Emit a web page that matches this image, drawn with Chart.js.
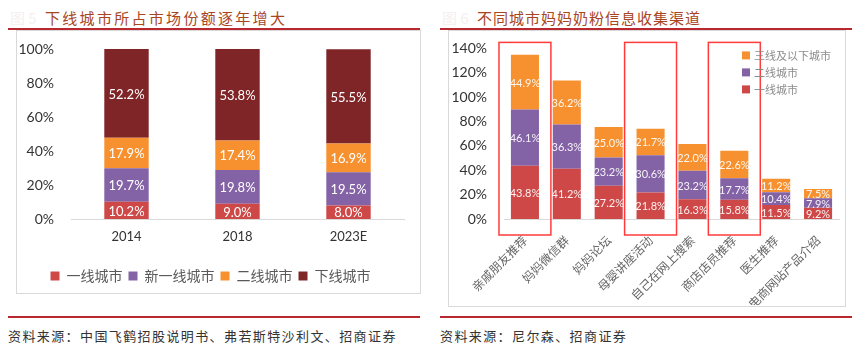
<!DOCTYPE html>
<html>
<head>
<meta charset="utf-8">
<script src="https://cdn.jsdelivr.net/npm/chart.js@4/dist/chart.umd.min.js"></script>
<style>
  body { margin: 0; width: 864px; height: 352px; background: #fff; position: relative; overflow: hidden;
         font-family: "Noto Sans CJK SC", sans-serif; }
  .abs { position: absolute; }
  .fig { color: #f5f0f0; font-size: 15px; top: 7px; }
  .title { color: #a8461f; font-size: 15px; top: 7px; white-space: nowrap; }
  .rule { height: 2px; background: #b8282e; }
  .box { border: 1px solid #d9d9d9; box-sizing: border-box; }
  .src { color: #333; font-size: 13px; top: 326px; letter-spacing: 1.4px; white-space: nowrap; }
</style>
</head>
<body>
<div class="abs fig" style="left:10px">图 5</div>
<div class="abs title" style="left:45px; letter-spacing:2.3px">下线城市所占市场份额逐年增大</div>
<div class="abs rule" style="left:8px; top:28px; width:412px"></div>
<div class="abs box" style="left:16px; top:30px; width:405px; height:264px"></div>
<canvas id="left" class="abs" style="left:17px; top:31px" width="402" height="262"></canvas>
<div class="abs rule" style="left:8px; top:316px; width:412px"></div>
<div class="abs src" style="left:8px">资料来源：中国飞鹤招股说明书、弗若斯特沙利文、招商证券</div>

<div class="abs fig" style="left:442px">图 6</div>
<div class="abs title" style="left:477px; letter-spacing:1px">不同城市妈妈奶粉信息收集渠道</div>
<div class="abs rule" style="left:440px; top:28px; width:412px"></div>
<div class="abs box" style="left:448px; top:30px; width:398px; height:277px"></div>
<canvas id="right" class="abs" style="left:449px; top:31px" width="396" height="274"></canvas>
<div class="abs rule" style="left:440px; top:316px; width:412px"></div>
<div class="abs src" style="left:440px">资料来源：尼尔森、招商证券</div>

<script>
// left chart: market share by city tier
const years = ['2014', '2018', '2023E'];
const tier1Share = [10.2, 9.0, 8.0];
const newTier1Share = [19.7, 19.8, 19.5];
const tier2Share = [17.9, 17.4, 16.9];
const lowerTierShare = [52.2, 53.8, 55.5];

// right chart: info channels of mothers
const channels = ['亲戚朋友推荐', '妈妈微信群', '妈妈论坛', '母婴讲座活动', '自己在网上搜索', '商店店员推荐', '医生推荐', '电商网站产品介绍'];
const firstTier = [43.8, 41.2, 27.2, 21.8, 16.3, 15.8, 11.5, 9.2];
const secondTier = [46.1, 36.3, 23.2, 30.6, 23.2, 17.7, 10.4, 7.9];
const thirdAndBelow = [44.9, 36.2, 25.0, 21.7, 22.0, 22.6, 11.2, 7.5];
const highlighted = [0, 3, 5];

const RED = '#cf4848', PURPLE = '#8462a6', ORANGE = '#f7912f', DARK = '#7f2427';

Chart.defaults.font.family = 'Lato, "Noto Sans CJK SC", sans-serif';
Chart.defaults.animation = false;

// value labels in the middle of each stacked segment
const barLabels = {
    id: 'barLabels',
    afterDatasetsDraw(chart, args, opts) {
        const ctx = chart.ctx;
        ctx.save();
        ctx.font = opts.font;
        ctx.fillStyle = opts.color;
        ctx.textAlign = 'center';
        ctx.textBaseline = 'middle';
        chart.data.datasets.forEach((ds, i) => {
            chart.getDatasetMeta(i).data.forEach((bar, j) => {
                ctx.fillText(ds.data[j].toFixed(1) + '%', bar.x, (bar.y + bar.base) / 2 + 1);
            });
        });
        ctx.restore();
    }
};

// red outline boxes around selected categories
const highlightBoxes = {
    id: 'highlightBoxes',
    afterDraw(chart) {
        const { ctx, scales: { x, y } } = chart;
        const half = (x.getPixelForValue(1) - x.getPixelForValue(0)) * 0.62;
        const top = y.getPixelForValue(y.max) - 6;
        const bottom = y.getPixelForValue(0) + 16;
        ctx.save();
        ctx.strokeStyle = '#ff3b3b';
        ctx.lineWidth = 1.5;
        highlighted.forEach(i => {
            const cx = x.getPixelForValue(i);
            ctx.strokeRect(cx - half, top, half * 2, bottom - top);
        });
        ctx.restore();
    }
};

// legend drawn inside the plot, top right, reversed order
const innerLegend = {
    id: 'innerLegend',
    afterDraw(chart) {
        const { ctx, chartArea } = chart;
        const ds = chart.data.datasets.slice().reverse();
        ctx.save();
        ctx.font = '11px "Noto Sans CJK SC", sans-serif';
        ctx.textBaseline = 'middle';
        ds.forEach((d, i) => {
            const x0 = chartArea.right - 97;
            const yc = chartArea.top + 7 + i * 17;
            ctx.fillStyle = d.backgroundColor;
            ctx.fillRect(x0, yc - 4, 8, 8);
            ctx.fillStyle = '#8c8c8c';
            ctx.fillText(d.label, x0 + 12, yc);
        });
        ctx.restore();
    }
};

new Chart(document.getElementById('left'), {
    type: 'bar',
    data: {
        labels: years,
        datasets: [
            { label: '一线城市', data: tier1Share, backgroundColor: RED },
            { label: '新一线城市', data: newTier1Share, backgroundColor: PURPLE },
            { label: '二线城市', data: tier2Share, backgroundColor: ORANGE },
            { label: '下线城市', data: lowerTierShare, backgroundColor: DARK }
        ]
    },
    options: {
        responsive: false,
        layout: { padding: { top: 18, right: 15, left: 0, bottom: 0 } },
        datasets: { bar: { barPercentage: 0.4, categoryPercentage: 1 } },
        scales: {
            x: {
                stacked: true,
                grid: { display: true, drawOnChartArea: false, drawTicks: false },
                border: { color: '#d9d9d9', width: 1 },
                ticks: { color: '#333', font: { size: 13 }, padding: 10 },
                afterFit: s => { s.height = 44; }
            },
            y: {
                stacked: true, min: 0, max: 100,
                grid: { display: false },
                border: { display: false },
                ticks: { stepSize: 20, color: '#333', font: { size: 14 }, padding: 9, callback: v => v + '%' },
                afterFit: s => { s.width = 54; }
            }
        },
        plugins: {
            legend: {
                position: 'bottom',
                labels: { boxWidth: 9, boxHeight: 9, padding: 6, color: '#595959',
                          font: { size: 14, family: '"Noto Sans CJK SC", sans-serif' } }
            },
            tooltip: { enabled: false },
            barLabels: { font: '13px Lato, sans-serif', color: '#fff' }
        }
    },
    plugins: [barLabels]
});

new Chart(document.getElementById('right'), {
    type: 'bar',
    data: {
        labels: channels,
        datasets: [
            { label: '一线城市', data: firstTier, backgroundColor: RED },
            { label: '二线城市', data: secondTier, backgroundColor: PURPLE },
            { label: '三线及以下城市', data: thirdAndBelow, backgroundColor: ORANGE }
        ]
    },
    options: {
        responsive: false,
        layout: { padding: { top: 12, right: 6, left: 0, bottom: 0 } },
        datasets: { bar: { barPercentage: 0.67, categoryPercentage: 1 } },
        scales: {
            x: {
                stacked: true,
                grid: { display: true, drawOnChartArea: false, drawTicks: false },
                border: { color: '#d9d9d9', width: 1 },
                ticks: { color: '#666', font: { size: 12, family: '"Noto Sans CJK SC", sans-serif' },
                         padding: 14, minRotation: 45, maxRotation: 45, autoSkip: false },
                afterFit: s => { s.height = 86; }
            },
            y: {
                stacked: true, min: 0, max: 140,
                grid: { display: false },
                border: { display: false },
                ticks: { stepSize: 20, color: '#333', font: { size: 14 }, padding: 9, callback: v => v + '%' },
                afterFit: s => { s.width = 55; }
            }
        },
        plugins: {
            legend: { display: false },
            tooltip: { enabled: false },
            barLabels: { font: '11px Lato, sans-serif', color: 'rgba(255,255,255,0.92)' }
        }
    },
    plugins: [barLabels, highlightBoxes, innerLegend]
});
</script>
</body>
</html>
